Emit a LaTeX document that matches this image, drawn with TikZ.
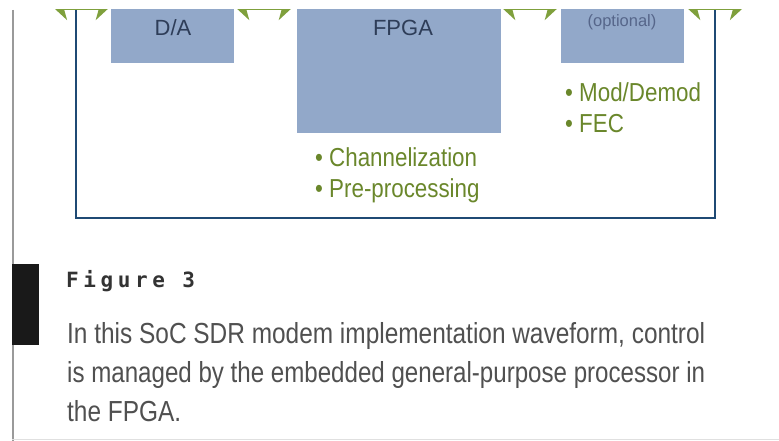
\documentclass[tikz,border=0pt]{standalone}
\usepackage{fontspec}
\setmainfont{Liberation Sans}
\setmonofont{DejaVu Sans Mono}
\usetikzlibrary{arrows.meta}
\definecolor{boxblue}{HTML}{92A8C9}
\definecolor{boxtext}{HTML}{2E3D58}
\definecolor{opttext}{HTML}{56668A}
\definecolor{navy}{HTML}{1F4A74}
\definecolor{olive}{HTML}{6A872B}
\definecolor{arrowgreen}{HTML}{7FA03C}
\definecolor{captext}{HTML}{505050}
\definecolor{figtext}{HTML}{333333}
\definecolor{pageline}{HTML}{9A9A9A}
\newsavebox\capboxA
\newlength\capwdA
\newcommand{\gsc}[1]{\scalebox{0.86}[1]{#1}}
\tikzset{
  blockbox/.style={draw=none, fill=boxblue, inner sep=0pt},
  boxlabel/.style={text=boxtext, font=\fontsize{22}{26}\selectfont, inner sep=0pt, anchor=base},
  gtext/.style={text=olive, font=\fontsize{26}{30}\selectfont, inner sep=0pt, anchor=base west},
  captext/.style={text=captext, font=\fontsize{29}{34}\selectfont, inner sep=0pt, anchor=base west},
  garrow/.style={draw=arrowgreen, line width=3pt, {Stealth[length=12pt,width=22pt,inset=3pt]}-{Stealth[length=12pt,width=22pt,inset=3pt]}},
}
\begin{document}
\sbox\capboxA{\fontsize{29}{34}\selectfont In this SoC SDR modem implementation waveform, control}%
\setlength\capwdA{\wd\capboxA}%
\pgfmathsetmacro\capsc{638/\capwdA}%
\begin{tikzpicture}[x=1pt,y=-1pt]
\useasboundingbox[fill=white] (0,0) rectangle (779,441);
\begin{scope}
\clip (0,10) rectangle (779,441);
% outer SoC box
\node[draw=navy, line width=2.5pt, minimum width=639pt, minimum height=238pt, inner sep=0pt] (soc) at (395.5,99) {};
% blocks
\node[blockbox, minimum width=123pt, minimum height=83pt] (da) at (172.5,21.5) {};
\node[blockbox, minimum width=204pt, minimum height=153pt] (fpga) at (399,56.5) {};
\node[blockbox, minimum width=123pt, minimum height=83pt] (opt) at (622.5,21.5) {};
% labels
\node[boxlabel] (dalab) at (173,36) {D/A};
\node[boxlabel] (fpgalab) at (403,36) {FPGA};
\node[text=opttext, font=\fontsize{16.5}{20}\selectfont, inner sep=0pt, anchor=base] (optlab) at (622,27) {(optional)};
% arrows
\coordinate (l1) at (55,9);
\coordinate (r4) at (742,9);
\draw[garrow, shorten >=3pt] (l1) -- (da.west |- l1);
\draw[garrow, shorten <=3pt, shorten >=6pt] (da.east |- l1) -- (fpga.west |- l1);
\draw[garrow, shorten <=2pt, shorten >=4pt] (fpga.east |- l1) -- (opt.west |- l1);
\draw[garrow, shorten <=4pt] (opt.east |- r4) -- (r4);
% page line
\draw[pageline, line width=2pt] (12.5,10) -- (12.5,441);
\end{scope}
% green bullet texts
\node[gtext] (ch) at (315,167) {\gsc{• Channelization}};
\node[gtext] (pp) at (315,197) {\gsc{• Pre-processing}};
\node[gtext] (md) at (565,102) {\gsc{• Mod/Demod}};
\node[gtext] (fec) at (565,133) {\gsc{• FEC}};
% caption
\fill[black!90] (12,264) rectangle (39,345);
\node[text=figtext, font=\fontsize{21}{24}\ttfamily\bfseries\addfontfeature{LetterSpace=22}, inner sep=0pt, anchor=base west] (fig) at (66,287) {Figure 3};
\node[captext] (c1) at (67,343) {\scalebox{\capsc}[1]{In this SoC SDR modem implementation waveform, control}};
\node[captext] (c2) at (67,382) {\resizebox{638pt}{\height}{is managed by the embedded general-purpose processor in}};
\node[captext] (c3) at (67,421) {\scalebox{\capsc}[1]{the FPGA.}};
\draw[black!12, line width=1pt] (12,439.5) -- (779,439.5);
\end{tikzpicture}
\end{document}
